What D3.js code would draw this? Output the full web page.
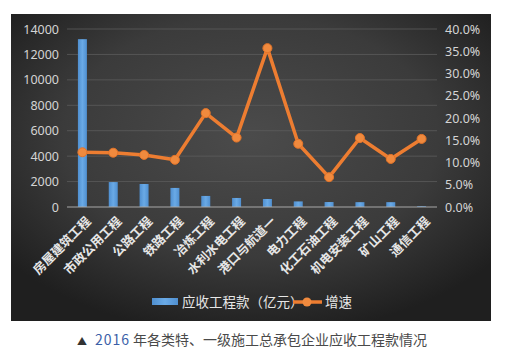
<!DOCTYPE html>
<html>
<head>
<meta charset="utf-8">
<script src="https://cdn.jsdelivr.net/npm/d3@7/dist/d3.min.js"></script>
<style>
  body { margin: 0; background: #fff; }
  svg { display: block; }
</style>
</head>
<body>
<svg id="chart" width="507" height="358"></svg>
<script>
// categories and series
var categories = ["房屋建筑工程", "市政公用工程", "公路工程", "铁路工程", "冶炼工程", "水利水电工程",
                  "港口与航道一", "电力工程", "化工石油工程", "机电安装工程", "矿山工程", "通信工程"];
var receivable = [13200, 1960, 1810, 1500, 870, 710, 630, 440, 390, 380, 380, 60];
var growth = [12.3, 12.2, 11.7, 10.6, 21.1, 15.6, 35.7, 14.2, 6.7, 15.5, 10.8, 15.3];
var leftTicks = [0, 2000, 4000, 6000, 8000, 10000, 12000, 14000];
var rightTicks = [0, 5, 10, 15, 20, 25, 30, 35, 40];

var svg = d3.select("#chart");

// background panel with a lighter middle
var defs = svg.append("defs");
var bg = defs.append("radialGradient").attr("id", "bg")
    .attr("cx", "50%").attr("cy", "40%").attr("r", "65%");
bg.append("stop").attr("offset", "0%").attr("stop-color", "#4b4b4b");
bg.append("stop").attr("offset", "60%").attr("stop-color", "#3b3b3b");
bg.append("stop").attr("offset", "100%").attr("stop-color", "#1f1f1f");

var barGrad = defs.append("linearGradient").attr("id", "barGrad")
    .attr("x1", "0").attr("x2", "1").attr("y1", "0").attr("y2", "0");
barGrad.append("stop").attr("offset", "0%").attr("stop-color", "#4f8fd0");
barGrad.append("stop").attr("offset", "50%").attr("stop-color", "#6aaae6");
barGrad.append("stop").attr("offset", "100%").attr("stop-color", "#4f8fd0");

svg.append("rect")
    .attr("x", 11).attr("y", 14)
    .attr("width", 480).attr("height", 307)
    .attr("fill", "url(#bg)");

// plot area
var plotLeft = 67, plotRight = 437, plotTop = 29, plotBottom = 207;

var x = d3.scaleBand()
    .domain(categories)
    .range([plotLeft, plotRight])
    .padding(0);

var y = d3.scaleLinear().domain([0, 14000]).range([plotBottom, plotTop]);
var y2 = d3.scaleLinear().domain([0, 40]).range([plotBottom, plotTop]);

// gridlines
svg.append("g")
    .selectAll("line")
    .data(leftTicks.slice(1))
    .enter()
    .append("line")
    .attr("x1", plotLeft).attr("x2", plotRight)
    .attr("y1", function(d) { return y(d); })
    .attr("y2", function(d) { return y(d); })
    .attr("stroke", "#5c5c5c")
    .attr("stroke-width", 0.8);

// left axis
var leftAxis = svg.append("g")
    .attr("transform", "translate(" + plotLeft + ",0)")
    .call(d3.axisLeft(y).tickValues(leftTicks).tickSize(0).tickPadding(8).tickFormat(d3.format("d")));
leftAxis.select(".domain").remove();
leftAxis.selectAll("text")
    .style("font-family", "'Noto Sans', sans-serif")
    .style("font-size", "12.5px")
    .attr("fill", "#d4d4d4");

// right axis
var rightAxis = svg.append("g")
    .attr("transform", "translate(" + plotRight + ",0)")
    .call(d3.axisRight(y2).tickValues(rightTicks).tickSize(0).tickPadding(8)
        .tickFormat(function(d) { return d.toFixed(1) + "%"; }));
rightAxis.select(".domain").remove();
rightAxis.selectAll("text")
    .style("font-family", "'Noto Sans', sans-serif")
    .style("font-size", "12.5px")
    .attr("fill", "#d4d4d4");

// bars
var barW = 9;
svg.append("g")
    .selectAll("rect")
    .data(receivable)
    .enter()
    .append("rect")
    .attr("x", function(d, i) { return x(categories[i]) + x.bandwidth() / 2 - barW / 2; })
    .attr("y", function(d) { return y(d); })
    .attr("width", barW)
    .attr("height", function(d) { return plotBottom - y(d); })
    .attr("fill", "url(#barGrad)");

// baseline
svg.append("line")
    .attr("x1", plotLeft).attr("x2", plotRight)
    .attr("y1", plotBottom).attr("y2", plotBottom)
    .attr("stroke", "#a8a8a8")
    .attr("stroke-width", 1);

// growth line
var line = d3.line()
    .x(function(d, i) { return x(categories[i]) + x.bandwidth() / 2; })
    .y(function(d) { return y2(d); });

svg.append("path")
    .datum(growth)
    .attr("d", line)
    .attr("fill", "none")
    .attr("stroke", "#ed7d31")
    .attr("stroke-width", 3.5)
    .attr("stroke-linejoin", "round");

svg.append("g")
    .selectAll("circle")
    .data(growth)
    .enter()
    .append("circle")
    .attr("cx", function(d, i) { return x(categories[i]) + x.bandwidth() / 2; })
    .attr("cy", function(d) { return y2(d); })
    .attr("r", 4.5)
    .attr("fill", "#f08a3e")
    .attr("stroke", "#e57428")
    .attr("stroke-width", 1);

// category labels, rotated
svg.append("g")
    .selectAll("text")
    .data(categories)
    .enter()
    .append("text")
    .attr("transform", function(d) {
        return "translate(" + (x(d) + x.bandwidth() / 2 + 6) + "," + (plotBottom + 12) + ") rotate(-45)";
    })
    .attr("text-anchor", "end")
    .attr("dy", "0.35em")
    .style("font-family", "'Noto Sans CJK SC', sans-serif")
    .style("font-weight", "bold")
    .style("font-size", "12.5px")
    .attr("fill", "#e6e6e6")
    .text(function(d) { return d; });

// legend
var legend = svg.append("g").style("font-family", "'Noto Sans CJK SC', sans-serif")
    .style("font-size", "13.5px");
legend.append("rect")
    .attr("x", 152).attr("y", 298)
    .attr("width", 26).attr("height", 7)
    .attr("fill", "url(#barGrad)");
legend.append("text")
    .attr("x", 182).attr("y", 302).attr("dy", "0.35em")
    .attr("fill", "#e6e6e6")
    .text("应收工程款（亿元）");
legend.append("line")
    .attr("x1", 293).attr("x2", 322)
    .attr("y1", 302).attr("y2", 302)
    .attr("stroke", "#ed7d31").attr("stroke-width", 3.5);
legend.append("circle")
    .attr("cx", 307).attr("cy", 302).attr("r", 4.5)
    .attr("fill", "#f08a3e");
legend.append("text")
    .attr("x", 325).attr("y", 302).attr("dy", "0.35em")
    .attr("fill", "#e6e6e6")
    .text("增速");

// caption below the chart
var caption = svg.append("text")
    .attr("x", 77).attr("y", 340).attr("dy", "0.35em")
    .style("font-family", "'Noto Sans CJK SC', sans-serif")
    .style("font-size", "14px")
    .attr("fill", "#4a4a4a");
caption.append("tspan").attr("fill", "#333").style("font-size", "10px").text("▲");
caption.append("tspan").attr("fill", "#3b5fa8").attr("dx", 8).style("letter-spacing", "1px").text("2016");
caption.append("tspan").attr("dx", 3).text("年各类特、一级施工总承包企业应收工程款情况");
</script>
</body>
</html>
